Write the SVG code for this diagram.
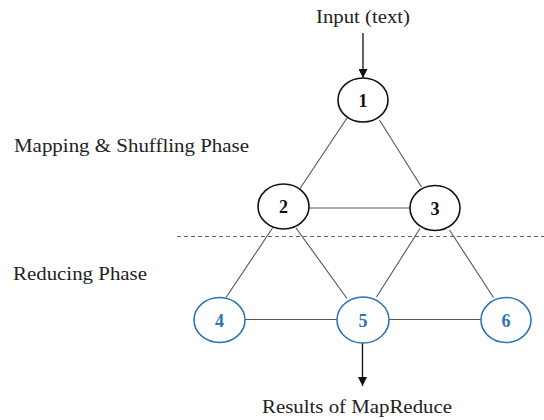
<svg xmlns="http://www.w3.org/2000/svg" width="544" height="420" viewBox="0 0 544 420">
<defs>
<style>
.lbl{font-family:"Liberation Serif","Times New Roman",serif;font-size:18px;fill:#222}
.num{font-family:"Liberation Serif","Times New Roman",serif;font-size:18px;font-weight:bold;text-anchor:middle}
.nb ellipse{fill:#fff;stroke:#111;stroke-width:1.6}
.nb text{fill:#111}
.nl ellipse{fill:#fff;stroke:#2e75b6;stroke-width:1.6}
.nl text{fill:#2e75b6}
.edge{stroke:#555;stroke-width:1.1;fill:none}
.arr{stroke:#111;stroke-width:1.3;fill:none}
</style>
<marker id="ah" viewBox="0 0 10 10" refX="10" refY="5" markerWidth="9" markerHeight="9" markerUnits="userSpaceOnUse" orient="auto">
<path d="M0,0 L10,5 L0,10 Z" fill="#111"/>
</marker>
</defs>
<rect width="544" height="420" fill="#fff"/>
<text class="lbl" x="363" y="23" text-anchor="middle" textLength="94" lengthAdjust="spacingAndGlyphs">Input (text)</text>
<text class="lbl" x="14" y="152" textLength="235" lengthAdjust="spacingAndGlyphs">Mapping &amp; Shuffling Phase</text>
<text class="lbl" x="13" y="280" textLength="134" lengthAdjust="spacingAndGlyphs">Reducing Phase</text>
<text class="lbl" x="357" y="413" text-anchor="middle" textLength="190" lengthAdjust="spacingAndGlyphs">Results of MapReduce</text>
<line x1="177" y1="236.5" x2="544" y2="236.5" stroke="#666" stroke-width="1" stroke-dasharray="4,3"/>
<g id="connectors">
<line class="arr" x1="363" y1="33" x2="363" y2="78" marker-end="url(#ah)"/>
<line class="arr" x1="362.5" y1="343" x2="362.5" y2="386" marker-end="url(#ah)"/>
<line class="edge" x1="347" y1="118" x2="300" y2="188.5"/>
<line class="edge" x1="379.5" y1="120" x2="421.5" y2="187"/>
<line class="edge" x1="309" y1="208" x2="410" y2="208"/>
<line class="edge" x1="272.5" y1="228" x2="226" y2="297.5"/>
<line class="edge" x1="296" y1="228" x2="347" y2="298.5"/>
<line class="edge" x1="420" y1="228.5" x2="376.5" y2="297"/>
<line class="edge" x1="449.5" y1="230" x2="493.5" y2="297.5"/>
<line class="edge" x1="245" y1="319.5" x2="337" y2="319.5"/>
<line class="edge" x1="389" y1="319.5" x2="481" y2="319.5"/>
</g>
<g id="node1" class="nb"><ellipse cx="363" cy="100" rx="25" ry="22"/><text class="num" x="363" y="106.5">1</text></g>
<g id="node2" class="nb"><ellipse cx="283.5" cy="206.5" rx="25.5" ry="22.5"/><text class="num" x="283.5" y="213">2</text></g>
<g id="node3" class="nb"><ellipse cx="435" cy="208" rx="25" ry="22.5"/><text class="num" x="435" y="214.5">3</text></g>
<g id="node4" class="nl"><ellipse cx="219.5" cy="320" rx="25.5" ry="22.5"/><text class="num" x="219.5" y="326.5">4</text></g>
<g id="node5" class="nl"><ellipse cx="363" cy="320" rx="26" ry="23"/><text class="num" x="363" y="326.5">5</text></g>
<g id="node6" class="nl"><ellipse cx="506" cy="320" rx="25" ry="22.5"/><text class="num" x="506" y="326.5">6</text></g>
</svg>
